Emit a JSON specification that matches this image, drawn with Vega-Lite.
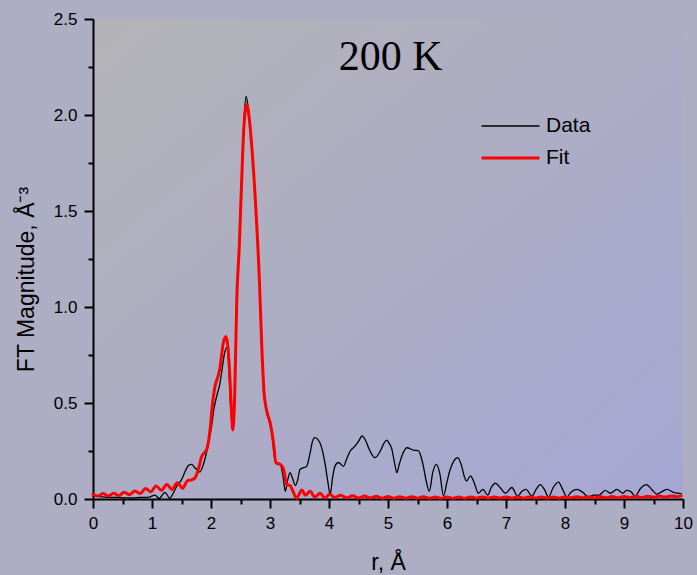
{
  "$schema": "https://vega.github.io/schema/vega-lite/v6.json",
  "width": 590,
  "height": 480,
  "autosize": "none",
  "padding": {"left": 93, "top": 19, "right": 14, "bottom": 76},
  "background": "#adadc4",
  "config": {
    "view": {"stroke": null, "fill": {"gradient": "linear", "x1": 0, "y1": 0, "x2": 1, "y2": 1, "stops": [{"offset": 0, "color": "#b3b3b6"}, {"offset": 1, "color": "#a6a6d4"}]}},
    "axis": {"grid": false, "labelFlush": false, "domainColor": "black", "domainWidth": 2, "tickColor": "black", "tickWidth": 2, "labelColor": "black", "labelFont": "Liberation Sans", "labelFontSize": 17, "titleFont": "Liberation Sans", "titleFontSize": 23, "titleFontWeight": "normal", "titleColor": "black"},
    "legend": {"orient": "none", "legendX": 387, "legendY": 97, "title": null, "padding": 0, "labelFont": "Liberation Sans", "labelFontSize": 21, "labelColor": "black", "symbolType": "stroke", "symbolSize": 3364, "clipHeight": 20, "rowPadding": 11, "labelOffset": 5}
  },
  "data": {"values": [
    {"series": "Data", "r": 0, "m": 0.015},
    {"series": "Data", "r": 0.2, "m": 0.01},
    {"series": "Data", "r": 0.4, "m": 0.008},
    {"series": "Data", "r": 0.6, "m": 0.006},
    {"series": "Data", "r": 0.8, "m": 0.008},
    {"series": "Data", "r": 0.95, "m": 0.01},
    {"series": "Data", "r": 1.05, "m": 0.02},
    {"series": "Data", "r": 1.12, "m": 0.003},
    {"series": "Data", "r": 1.22, "m": 0.035},
    {"series": "Data", "r": 1.3, "m": 0.004},
    {"series": "Data", "r": 1.36, "m": 0.03},
    {"series": "Data", "r": 1.42, "m": 0.068},
    {"series": "Data", "r": 1.5, "m": 0.1},
    {"series": "Data", "r": 1.57, "m": 0.15},
    {"series": "Data", "r": 1.62, "m": 0.175},
    {"series": "Data", "r": 1.67, "m": 0.18},
    {"series": "Data", "r": 1.72, "m": 0.165},
    {"series": "Data", "r": 1.77, "m": 0.15},
    {"series": "Data", "r": 1.81, "m": 0.14},
    {"series": "Data", "r": 1.87, "m": 0.18},
    {"series": "Data", "r": 1.93, "m": 0.25},
    {"series": "Data", "r": 1.97, "m": 0.31},
    {"series": "Data", "r": 2.01, "m": 0.38},
    {"series": "Data", "r": 2.05, "m": 0.47},
    {"series": "Data", "r": 2.1, "m": 0.54},
    {"series": "Data", "r": 2.15, "m": 0.6},
    {"series": "Data", "r": 2.19, "m": 0.68},
    {"series": "Data", "r": 2.23, "m": 0.76},
    {"series": "Data", "r": 2.267, "m": 0.79},
    {"series": "Data", "r": 2.3, "m": 0.7},
    {"series": "Data", "r": 2.33, "m": 0.5},
    {"series": "Data", "r": 2.37, "m": 0.36},
    {"series": "Data", "r": 2.4, "m": 0.52},
    {"series": "Data", "r": 2.437, "m": 1.04},
    {"series": "Data", "r": 2.48, "m": 1.34},
    {"series": "Data", "r": 2.52, "m": 1.68},
    {"series": "Data", "r": 2.56, "m": 1.98},
    {"series": "Data", "r": 2.595, "m": 2.097},
    {"series": "Data", "r": 2.63, "m": 2.04},
    {"series": "Data", "r": 2.69, "m": 1.84},
    {"series": "Data", "r": 2.764, "m": 1.49},
    {"series": "Data", "r": 2.82, "m": 1.14},
    {"series": "Data", "r": 2.86, "m": 0.82},
    {"series": "Data", "r": 2.9, "m": 0.55},
    {"series": "Data", "r": 2.945, "m": 0.45},
    {"series": "Data", "r": 2.99, "m": 0.4},
    {"series": "Data", "r": 3.03, "m": 0.34},
    {"series": "Data", "r": 3.08, "m": 0.21},
    {"series": "Data", "r": 3.12, "m": 0.18},
    {"series": "Data", "r": 3.17, "m": 0.18},
    {"series": "Data", "r": 3.22, "m": 0.12},
    {"series": "Data", "r": 3.26, "m": 0.04},
    {"series": "Data", "r": 3.3, "m": 0.1},
    {"series": "Data", "r": 3.34, "m": 0.137},
    {"series": "Data", "r": 3.38, "m": 0.11},
    {"series": "Data", "r": 3.43, "m": 0.07},
    {"series": "Data", "r": 3.47, "m": 0.1},
    {"series": "Data", "r": 3.51, "m": 0.155},
    {"series": "Data", "r": 3.57, "m": 0.163},
    {"series": "Data", "r": 3.62, "m": 0.17},
    {"series": "Data", "r": 3.68, "m": 0.24},
    {"series": "Data", "r": 3.72, "m": 0.3},
    {"series": "Data", "r": 3.76, "m": 0.32},
    {"series": "Data", "r": 3.85, "m": 0.29},
    {"series": "Data", "r": 3.93, "m": 0.19},
    {"series": "Data", "r": 3.98, "m": 0.09},
    {"series": "Data", "r": 4.02, "m": 0.024},
    {"series": "Data", "r": 4.06, "m": 0.11},
    {"series": "Data", "r": 4.1, "m": 0.17},
    {"series": "Data", "r": 4.16, "m": 0.19},
    {"series": "Data", "r": 4.245, "m": 0.17},
    {"series": "Data", "r": 4.3, "m": 0.21},
    {"series": "Data", "r": 4.36, "m": 0.25},
    {"series": "Data", "r": 4.44, "m": 0.275},
    {"series": "Data", "r": 4.5, "m": 0.3},
    {"series": "Data", "r": 4.56, "m": 0.328},
    {"series": "Data", "r": 4.62, "m": 0.305},
    {"series": "Data", "r": 4.67, "m": 0.267},
    {"series": "Data", "r": 4.72, "m": 0.235},
    {"series": "Data", "r": 4.78, "m": 0.215},
    {"series": "Data", "r": 4.87, "m": 0.25},
    {"series": "Data", "r": 4.93, "m": 0.29},
    {"series": "Data", "r": 4.98, "m": 0.307},
    {"series": "Data", "r": 5.02, "m": 0.29},
    {"series": "Data", "r": 5.065, "m": 0.26},
    {"series": "Data", "r": 5.11, "m": 0.19},
    {"series": "Data", "r": 5.15, "m": 0.137},
    {"series": "Data", "r": 5.19, "m": 0.18},
    {"series": "Data", "r": 5.235, "m": 0.224},
    {"series": "Data", "r": 5.32, "m": 0.267},
    {"series": "Data", "r": 5.43, "m": 0.255},
    {"series": "Data", "r": 5.52, "m": 0.25},
    {"series": "Data", "r": 5.56, "m": 0.22},
    {"series": "Data", "r": 5.6, "m": 0.17},
    {"series": "Data", "r": 5.65, "m": 0.09},
    {"series": "Data", "r": 5.7, "m": 0.04},
    {"series": "Data", "r": 5.76, "m": 0.14},
    {"series": "Data", "r": 5.82, "m": 0.18},
    {"series": "Data", "r": 5.88, "m": 0.13},
    {"series": "Data", "r": 5.94, "m": 0.016},
    {"series": "Data", "r": 6.0, "m": 0.09},
    {"series": "Data", "r": 6.05, "m": 0.15},
    {"series": "Data", "r": 6.12, "m": 0.2},
    {"series": "Data", "r": 6.18, "m": 0.215},
    {"series": "Data", "r": 6.25, "m": 0.17},
    {"series": "Data", "r": 6.29, "m": 0.12},
    {"series": "Data", "r": 6.33, "m": 0.094},
    {"series": "Data", "r": 6.4, "m": 0.12},
    {"series": "Data", "r": 6.44, "m": 0.1},
    {"series": "Data", "r": 6.48, "m": 0.068},
    {"series": "Data", "r": 6.53, "m": 0.03},
    {"series": "Data", "r": 6.61, "m": 0.05},
    {"series": "Data", "r": 6.69, "m": 0.02},
    {"series": "Data", "r": 6.75, "m": 0.06},
    {"series": "Data", "r": 6.82, "m": 0.082},
    {"series": "Data", "r": 6.9, "m": 0.06},
    {"series": "Data", "r": 6.99, "m": 0.03},
    {"series": "Data", "r": 7.1, "m": 0.06},
    {"series": "Data", "r": 7.195, "m": 0.015},
    {"series": "Data", "r": 7.27, "m": 0.04},
    {"series": "Data", "r": 7.34, "m": 0.05},
    {"series": "Data", "r": 7.44, "m": 0.015},
    {"series": "Data", "r": 7.51, "m": 0.05},
    {"series": "Data", "r": 7.58, "m": 0.075},
    {"series": "Data", "r": 7.65, "m": 0.05},
    {"series": "Data", "r": 7.72, "m": 0.01},
    {"series": "Data", "r": 7.8, "m": 0.06},
    {"series": "Data", "r": 7.89, "m": 0.088},
    {"series": "Data", "r": 7.96, "m": 0.05},
    {"series": "Data", "r": 8.03, "m": 0.01},
    {"series": "Data", "r": 8.1, "m": 0.035},
    {"series": "Data", "r": 8.2, "m": 0.05},
    {"series": "Data", "r": 8.3, "m": 0.035},
    {"series": "Data", "r": 8.4, "m": 0.01},
    {"series": "Data", "r": 8.48, "m": 0.02},
    {"series": "Data", "r": 8.58, "m": 0.02},
    {"series": "Data", "r": 8.68, "m": 0.045},
    {"series": "Data", "r": 8.77, "m": 0.03},
    {"series": "Data", "r": 8.88, "m": 0.05},
    {"series": "Data", "r": 8.98, "m": 0.03},
    {"series": "Data", "r": 9.04, "m": 0.045},
    {"series": "Data", "r": 9.11, "m": 0.04},
    {"series": "Data", "r": 9.19, "m": 0.015},
    {"series": "Data", "r": 9.28, "m": 0.055},
    {"series": "Data", "r": 9.38, "m": 0.075},
    {"series": "Data", "r": 9.47, "m": 0.05},
    {"series": "Data", "r": 9.56, "m": 0.025},
    {"series": "Data", "r": 9.65, "m": 0.04},
    {"series": "Data", "r": 9.73, "m": 0.05},
    {"series": "Data", "r": 9.84, "m": 0.035},
    {"series": "Data", "r": 9.97, "m": 0.028},
    {"series": "Fit", "r": 0, "m": 0.025},
    {"series": "Fit", "r": 0.08, "m": 0.015},
    {"series": "Fit", "r": 0.17, "m": 0.028},
    {"series": "Fit", "r": 0.26, "m": 0.016},
    {"series": "Fit", "r": 0.35, "m": 0.03},
    {"series": "Fit", "r": 0.44, "m": 0.018},
    {"series": "Fit", "r": 0.53, "m": 0.035},
    {"series": "Fit", "r": 0.62, "m": 0.022},
    {"series": "Fit", "r": 0.71, "m": 0.042},
    {"series": "Fit", "r": 0.8, "m": 0.028},
    {"series": "Fit", "r": 0.89, "m": 0.055},
    {"series": "Fit", "r": 0.98, "m": 0.038},
    {"series": "Fit", "r": 1.07, "m": 0.068},
    {"series": "Fit", "r": 1.16, "m": 0.045},
    {"series": "Fit", "r": 1.25, "m": 0.076},
    {"series": "Fit", "r": 1.34, "m": 0.05},
    {"series": "Fit", "r": 1.43, "m": 0.085},
    {"series": "Fit", "r": 1.52, "m": 0.056},
    {"series": "Fit", "r": 1.6, "m": 0.095},
    {"series": "Fit", "r": 1.67, "m": 0.1},
    {"series": "Fit", "r": 1.73, "m": 0.11},
    {"series": "Fit", "r": 1.79, "m": 0.16},
    {"series": "Fit", "r": 1.84, "m": 0.22},
    {"series": "Fit", "r": 1.93, "m": 0.26},
    {"series": "Fit", "r": 1.98, "m": 0.35},
    {"series": "Fit", "r": 2.02, "m": 0.48},
    {"series": "Fit", "r": 2.07, "m": 0.59},
    {"series": "Fit", "r": 2.12, "m": 0.64},
    {"series": "Fit", "r": 2.15, "m": 0.68},
    {"series": "Fit", "r": 2.21, "m": 0.815},
    {"series": "Fit", "r": 2.255, "m": 0.846},
    {"series": "Fit", "r": 2.29, "m": 0.78},
    {"series": "Fit", "r": 2.31, "m": 0.69},
    {"series": "Fit", "r": 2.35, "m": 0.44},
    {"series": "Fit", "r": 2.37, "m": 0.36},
    {"series": "Fit", "r": 2.4, "m": 0.52},
    {"series": "Fit", "r": 2.437, "m": 1.04},
    {"series": "Fit", "r": 2.48, "m": 1.32},
    {"series": "Fit", "r": 2.52, "m": 1.66},
    {"series": "Fit", "r": 2.56, "m": 1.95},
    {"series": "Fit", "r": 2.606, "m": 2.054},
    {"series": "Fit", "r": 2.645, "m": 1.99},
    {"series": "Fit", "r": 2.69, "m": 1.84},
    {"series": "Fit", "r": 2.764, "m": 1.49},
    {"series": "Fit", "r": 2.82, "m": 1.14},
    {"series": "Fit", "r": 2.86, "m": 0.8},
    {"series": "Fit", "r": 2.9, "m": 0.55},
    {"series": "Fit", "r": 2.93, "m": 0.48},
    {"series": "Fit", "r": 2.97, "m": 0.43},
    {"series": "Fit", "r": 3.0, "m": 0.4},
    {"series": "Fit", "r": 3.06, "m": 0.29},
    {"series": "Fit", "r": 3.1, "m": 0.19},
    {"series": "Fit", "r": 3.17, "m": 0.18},
    {"series": "Fit", "r": 3.23, "m": 0.155},
    {"series": "Fit", "r": 3.28, "m": 0.076},
    {"series": "Fit", "r": 3.34, "m": 0.07},
    {"series": "Fit", "r": 3.39, "m": 0.04},
    {"series": "Fit", "r": 3.45, "m": 0.003},
    {"series": "Fit", "r": 3.54, "m": 0.047},
    {"series": "Fit", "r": 3.6, "m": 0.02},
    {"series": "Fit", "r": 3.68, "m": 0.04},
    {"series": "Fit", "r": 3.76, "m": 0.01},
    {"series": "Fit", "r": 3.85, "m": 0.03},
    {"series": "Fit", "r": 3.93, "m": 0.005},
    {"series": "Fit", "r": 4.01, "m": 0.025},
    {"series": "Fit", "r": 4.1, "m": 0.008},
    {"series": "Fit", "r": 4.2, "m": 0.02},
    {"series": "Fit", "r": 4.3, "m": 0.006},
    {"series": "Fit", "r": 4.4, "m": 0.017},
    {"series": "Fit", "r": 4.5, "m": 0.005},
    {"series": "Fit", "r": 4.6, "m": 0.015},
    {"series": "Fit", "r": 4.7, "m": 0.005},
    {"series": "Fit", "r": 4.8, "m": 0.014},
    {"series": "Fit", "r": 4.9, "m": 0.004},
    {"series": "Fit", "r": 5.0, "m": 0.013},
    {"series": "Fit", "r": 5.1, "m": 0.004},
    {"series": "Fit", "r": 5.2, "m": 0.012},
    {"series": "Fit", "r": 5.3, "m": 0.004},
    {"series": "Fit", "r": 5.4, "m": 0.012},
    {"series": "Fit", "r": 5.5, "m": 0.004},
    {"series": "Fit", "r": 5.6, "m": 0.012},
    {"series": "Fit", "r": 5.7, "m": 0.004},
    {"series": "Fit", "r": 5.8, "m": 0.011},
    {"series": "Fit", "r": 5.9, "m": 0.004},
    {"series": "Fit", "r": 6.0, "m": 0.011},
    {"series": "Fit", "r": 6.1, "m": 0.004},
    {"series": "Fit", "r": 6.2, "m": 0.011},
    {"series": "Fit", "r": 6.3, "m": 0.004},
    {"series": "Fit", "r": 6.4, "m": 0.011},
    {"series": "Fit", "r": 6.5, "m": 0.005},
    {"series": "Fit", "r": 6.6, "m": 0.011},
    {"series": "Fit", "r": 6.7, "m": 0.005},
    {"series": "Fit", "r": 6.8, "m": 0.011},
    {"series": "Fit", "r": 6.9, "m": 0.005},
    {"series": "Fit", "r": 7.0, "m": 0.011},
    {"series": "Fit", "r": 7.1, "m": 0.005},
    {"series": "Fit", "r": 7.2, "m": 0.011},
    {"series": "Fit", "r": 7.3, "m": 0.005},
    {"series": "Fit", "r": 7.4, "m": 0.011},
    {"series": "Fit", "r": 7.5, "m": 0.005},
    {"series": "Fit", "r": 7.6, "m": 0.011},
    {"series": "Fit", "r": 7.7, "m": 0.005},
    {"series": "Fit", "r": 7.8, "m": 0.011},
    {"series": "Fit", "r": 7.9, "m": 0.005},
    {"series": "Fit", "r": 8.0, "m": 0.011},
    {"series": "Fit", "r": 8.1, "m": 0.006},
    {"series": "Fit", "r": 8.2, "m": 0.012},
    {"series": "Fit", "r": 8.3, "m": 0.006},
    {"series": "Fit", "r": 8.4, "m": 0.012},
    {"series": "Fit", "r": 8.5, "m": 0.006},
    {"series": "Fit", "r": 8.6, "m": 0.012},
    {"series": "Fit", "r": 8.7, "m": 0.007},
    {"series": "Fit", "r": 8.8, "m": 0.013},
    {"series": "Fit", "r": 8.9, "m": 0.007},
    {"series": "Fit", "r": 9.0, "m": 0.013},
    {"series": "Fit", "r": 9.1, "m": 0.008},
    {"series": "Fit", "r": 9.2, "m": 0.014},
    {"series": "Fit", "r": 9.3, "m": 0.008},
    {"series": "Fit", "r": 9.4, "m": 0.014},
    {"series": "Fit", "r": 9.5, "m": 0.009},
    {"series": "Fit", "r": 9.6, "m": 0.015},
    {"series": "Fit", "r": 9.7, "m": 0.01},
    {"series": "Fit", "r": 9.8, "m": 0.016},
    {"series": "Fit", "r": 9.9, "m": 0.012},
    {"series": "Fit", "r": 9.97, "m": 0.016}
  ]},
  "layer": [
    {
      "mark": {"type": "line", "interpolate": "monotone", "strokeJoin": "round", "strokeCap": "round"},
      "encoding": {
        "x": {"field": "r", "type": "quantitative", "scale": {"domain": [0, 10], "nice": false, "zero": false},
              "axis": {"values": [0,1,2,3,4,5,6,7,8,9,10], "format": "d", "title": "r, Å", "tickSize": 9, "labelPadding": 7, "titleY": 70, "titleBaseline": "alphabetic", "orient": "bottom"}},
        "y": {"field": "m", "type": "quantitative", "scale": {"domain": [0, 2.5], "nice": false},
              "axis": {"values": [0, 0.5, 1, 1.5, 2, 2.5], "format": ".1f", "title": "FT Magnitude, Å⁻³", "tickSize": 9, "labelPadding": 7, "titleX": -60, "titleY": 260, "titleBaseline": "alphabetic", "orient": "left"}},
        "color": {"field": "series", "type": "ordinal", "scale": {"domain": ["Data", "Fit"], "range": ["#000000", "#ff0000"]}},
        "strokeWidth": {"field": "series", "type": "ordinal", "scale": {"domain": ["Data", "Fit"], "range": [1.3, 3]}}
      }
    },
    {
      "mark": {"type": "line", "strokeOpacity": 0},
      "encoding": {
        "x": {"field": "r", "type": "quantitative",
              "axis": {"values": [0.5,1.5,2.5,3.5,4.5,5.5,6.5,7.5,8.5,9.5], "labels": false, "domain": false, "title": null, "tickSize": 5, "orient": "bottom"}},
        "y": {"field": "m", "type": "quantitative",
              "axis": {"values": [0.25, 0.75, 1.25, 1.75, 2.25], "labels": false, "domain": false, "title": null, "tickSize": 5, "orient": "left"}}
      }
    },
    {
      "data": {"values": [{"label": "200 K"}]},
      "mark": {"type": "text", "font": "Liberation Serif", "fontSize": 42, "color": "black", "align": "center", "baseline": "alphabetic"},
      "encoding": {
        "x": {"datum": 5.045, "type": "quantitative", "axis": null},
        "y": {"datum": 2.236, "type": "quantitative", "axis": null},
        "text": {"field": "label"}
      }
    }
  ],
  "resolve": {"axis": {"x": "independent", "y": "independent"}}
}
